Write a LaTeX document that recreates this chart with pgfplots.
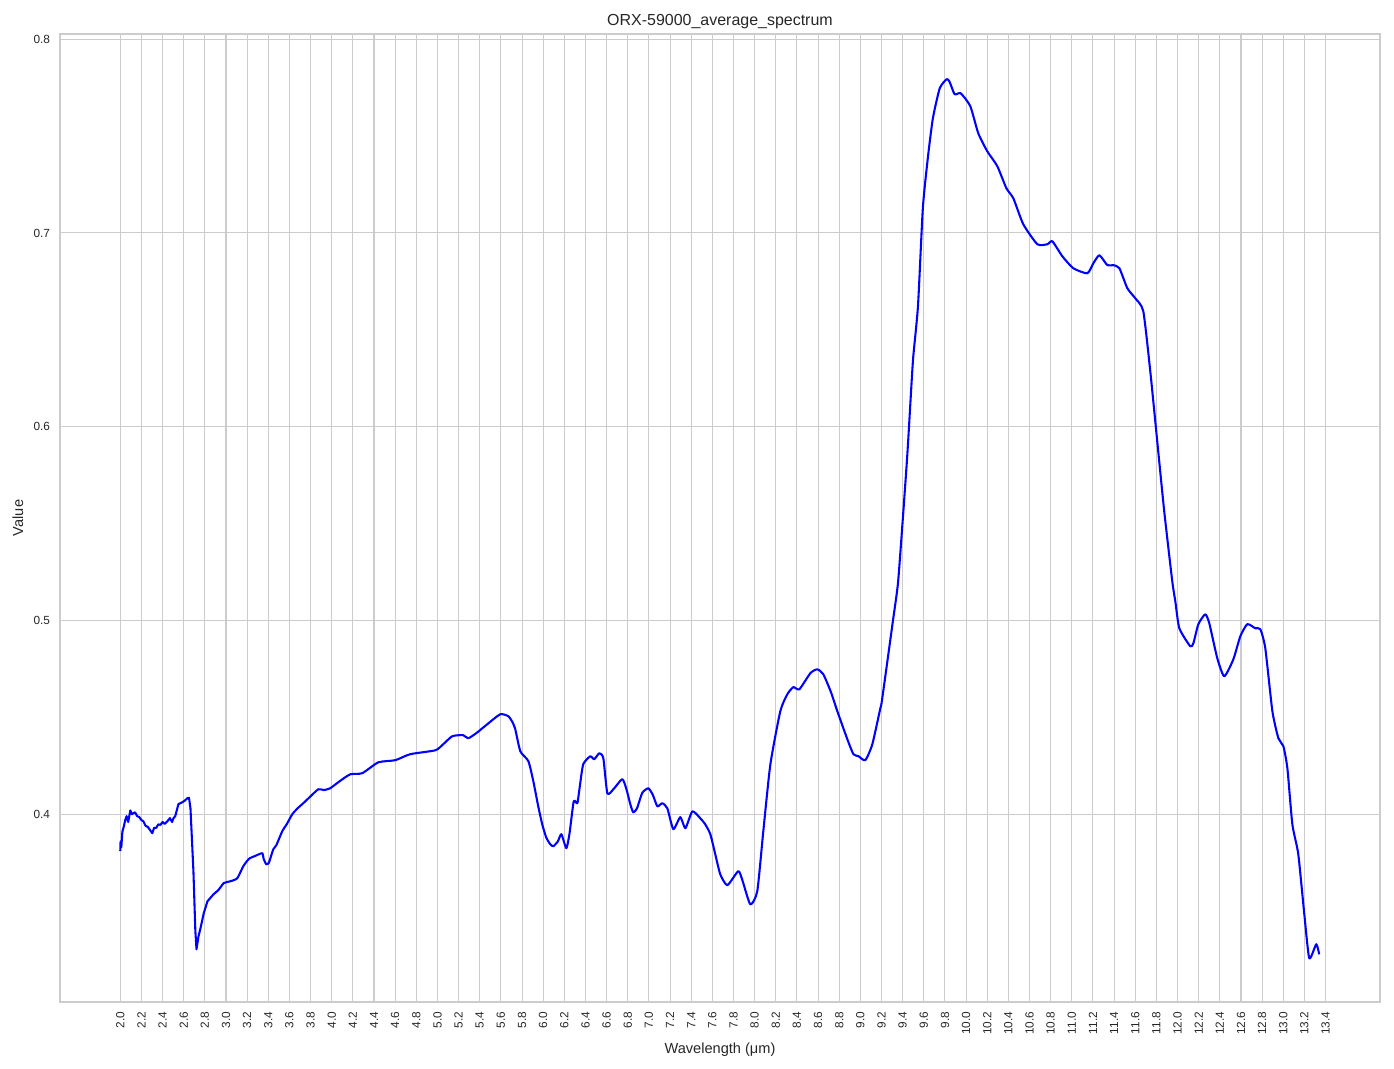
\documentclass[border=0pt]{standalone}
\usepackage{pgfplots}
\pgfplotsset{compat=1.18}
\usepackage{fontspec}
\setmainfont{Liberation Sans}
\definecolor{gridgray}{HTML}{CCCCCC}
\definecolor{txt}{HTML}{262626}

\begin{document}
\begin{tikzpicture}
\begin{axis}[
    scale only axis,
    width=950.4bp, height=696.96bp,
    xmin=1.430, xmax=13.915,
    ymin=0.3031, ymax=0.8027,
    xtick={2.0,2.2,2.4,2.6,2.8,3.0,3.2,3.4,3.6,3.8,4.0,4.2,4.4,4.6,4.8,5.0,5.2,5.4,5.6,5.8,6.0,6.2,6.4,6.6,6.8,7.0,7.2,7.4,7.6,7.8,8.0,8.2,8.4,8.6,8.8,9.0,9.2,9.4,9.6,9.8,10.0,10.2,10.4,10.6,10.8,11.0,11.2,11.4,11.6,11.8,12.0,12.2,12.4,12.6,12.8,13.0,13.2,13.4},
    ytick={0.4,0.5,0.6,0.7,0.8},
    xticklabel style={rotate=90, anchor=east, font=\fontsize{8.5bp}{10bp}\selectfont, text=txt, inner sep=1pt},
    yticklabel style={font=\fontsize{8.5bp}{10bp}\selectfont, text=txt, inner sep=1pt},
    /pgf/number format/fixed,
    /pgf/number format/fixed zerofill,
    /pgf/number format/precision=1,
    /pgf/number format/assume math mode=true,
    major tick length=0pt,
    xtick pos=bottom, ytick pos=left,
    xticklabel shift=6bp,
    yticklabel shift=6bp,
    grid=major,
    major grid style={gridgray, line width=0.75bp},
    axis line style={gridgray, line width=0.9bp},
    title={ORX-59000\_average\_spectrum},
    title style={font=\fontsize{11.5bp}{13bp}\selectfont, text=txt, yshift=-6bp},
    xlabel={Wavelength (μm)},
    ylabel={Value},
    label style={font=\fontsize{10.5bp}{12bp}\selectfont, text=txt},
    xlabel style={yshift=-1bp},
    ylabel style={yshift=3bp},
]
% noisy short-wave part
\addplot[blue, line width=1.5pt, line join=round] coordinates {
(2.000,0.381) (2.003,0.386) (2.010,0.383) (2.020,0.391) (2.035,0.394)
(2.047,0.397) (2.060,0.399) (2.075,0.396) (2.095,0.402) (2.110,0.400)
(2.123,0.4005) (2.140,0.401) (2.160,0.399) (2.180,0.3985) (2.200,0.397)
(2.218,0.3964) (2.240,0.394) (2.260,0.3935) (2.280,0.392) (2.303,0.3902)
(2.320,0.393) (2.340,0.393) (2.360,0.3948) (2.380,0.3945) (2.400,0.396)
(2.420,0.395) (2.446,0.3964) (2.470,0.398) (2.490,0.396) (2.503,0.3979)
(2.520,0.399) (2.550,0.4052) (2.580,0.406) (2.610,0.407) (2.635,0.4083)
(2.650,0.4085) (2.664,0.4031) (2.692,0.3706) (2.710,0.340) (2.721,0.3303)
(2.740,0.337) (2.759,0.3412) (2.790,0.349) (2.825,0.3551) (2.882,0.3587)
};
% rest of the spectrum
\addplot[blue, line width=1.5pt, line join=round, smooth, tension=0.35] coordinates {
(2.882,0.3587) (2.930,0.361) (2.977,0.3644) (3.007,0.365) (3.047,0.3655)
(3.107,0.3670) (3.164,0.3732) (3.217,0.377) (3.277,0.3785) (3.343,0.3799)
(3.356,0.377) (3.381,0.3742) (3.406,0.375) (3.447,0.3819) (3.476,0.384)
(3.532,0.3912) (3.576,0.395) (3.627,0.4000) (3.676,0.403) (3.731,0.4057)
(3.795,0.409) (3.873,0.4129) (3.925,0.4125) (3.985,0.4134) (4.074,0.4170)
(4.175,0.4206) (4.289,0.4212) (4.441,0.4268) (4.601,0.4279) (4.743,0.4310)
(4.979,0.4330) (5.052,0.436) (5.141,0.4403) (5.244,0.4408) (5.291,0.4392)
(5.371,0.442) (5.472,0.4465) (5.594,0.4516) (5.670,0.4506) (5.710,0.4475)
(5.736,0.4439) (5.784,0.4325) (5.860,0.4274) (5.907,0.4170) (5.950,0.405)
(5.991,0.3948) (6.029,0.388) (6.067,0.3845) (6.096,0.3835) (6.139,0.386)
(6.172,0.3897) (6.219,0.3825) (6.249,0.390) (6.289,0.4067) (6.323,0.4057)
(6.348,0.415) (6.379,0.4258) (6.445,0.4299) (6.483,0.4284) (6.531,0.4315)
(6.569,0.4289) (6.607,0.4108) (6.664,0.4129) (6.748,0.4181) (6.787,0.413)
(6.824,0.4052) (6.852,0.4010) (6.887,0.403) (6.937,0.4110) (6.995,0.4134)
(7.037,0.410) (7.080,0.4041) (7.126,0.4057) (7.174,0.4031) (7.231,0.3923)
(7.297,0.3985) (7.345,0.3928) (7.411,0.4015) (7.486,0.3979) (7.533,0.3948)
(7.581,0.3897) (7.625,0.380) (7.675,0.3690) (7.742,0.3634) (7.845,0.3706)
(7.884,0.366) (7.959,0.3535) (8.025,0.3603) (8.082,0.3912) (8.149,0.4258)
(8.243,0.4532) (8.309,0.4619) (8.366,0.4656) (8.423,0.4645) (8.527,0.4728)
(8.592,0.4748) (8.649,0.4723) (8.722,0.463) (8.782,0.4532) (8.877,0.4387)
(8.934,0.4310) (8.981,0.430) (9.047,0.4279) (9.113,0.4361) (9.189,0.4547)
(9.205,0.4590) (9.309,0.5002) (9.356,0.5194) (9.403,0.5535) (9.441,0.5829)
(9.460,0.5999) (9.498,0.6345) (9.545,0.6623) (9.591,0.7128) (9.638,0.7386)
(9.686,0.7592) (9.751,0.7747) (9.817,0.7794) (9.844,0.778) (9.892,0.7716)
(9.949,0.7721) (10.040,0.7654) (10.115,0.7515) (10.200,0.7422) (10.295,0.7345)
(10.381,0.7231) (10.447,0.7179) (10.541,0.7045) (10.674,0.6942) (10.769,0.6942)
(10.816,0.6957) (10.910,0.6880) (11.014,0.6818) (11.147,0.6792) (11.204,0.6844)
(11.261,0.6885) (11.336,0.6834) (11.393,0.6834) (11.450,0.6818) (11.525,0.6715)
(11.600,0.6663) (11.676,0.6596) (11.742,0.6287) (11.808,0.5925) (11.874,0.5564)
(11.950,0.5203) (11.979,0.5099) (12.017,0.4960) (12.120,0.4867) (12.150,0.4883)
(12.197,0.4981) (12.262,0.5032) (12.300,0.4986) (12.376,0.4805) (12.442,0.4712)
(12.528,0.4800) (12.594,0.4919) (12.660,0.4981) (12.735,0.4960) (12.783,0.4955)
(12.830,0.4857) (12.897,0.4532) (12.954,0.4392) (13.001,0.4351) (13.039,0.4237)
(13.086,0.3948) (13.142,0.3794) (13.199,0.3484) (13.246,0.3257) (13.312,0.3329)
(13.340,0.3277)
};
\end{axis}
\pgfresetboundingbox
\path ([shift={(-43.2bp,-48.24bp)}]current axis.south west) rectangle ([shift={(10.08bp,24.48bp)}]current axis.north east);
\end{tikzpicture}
\end{document}
